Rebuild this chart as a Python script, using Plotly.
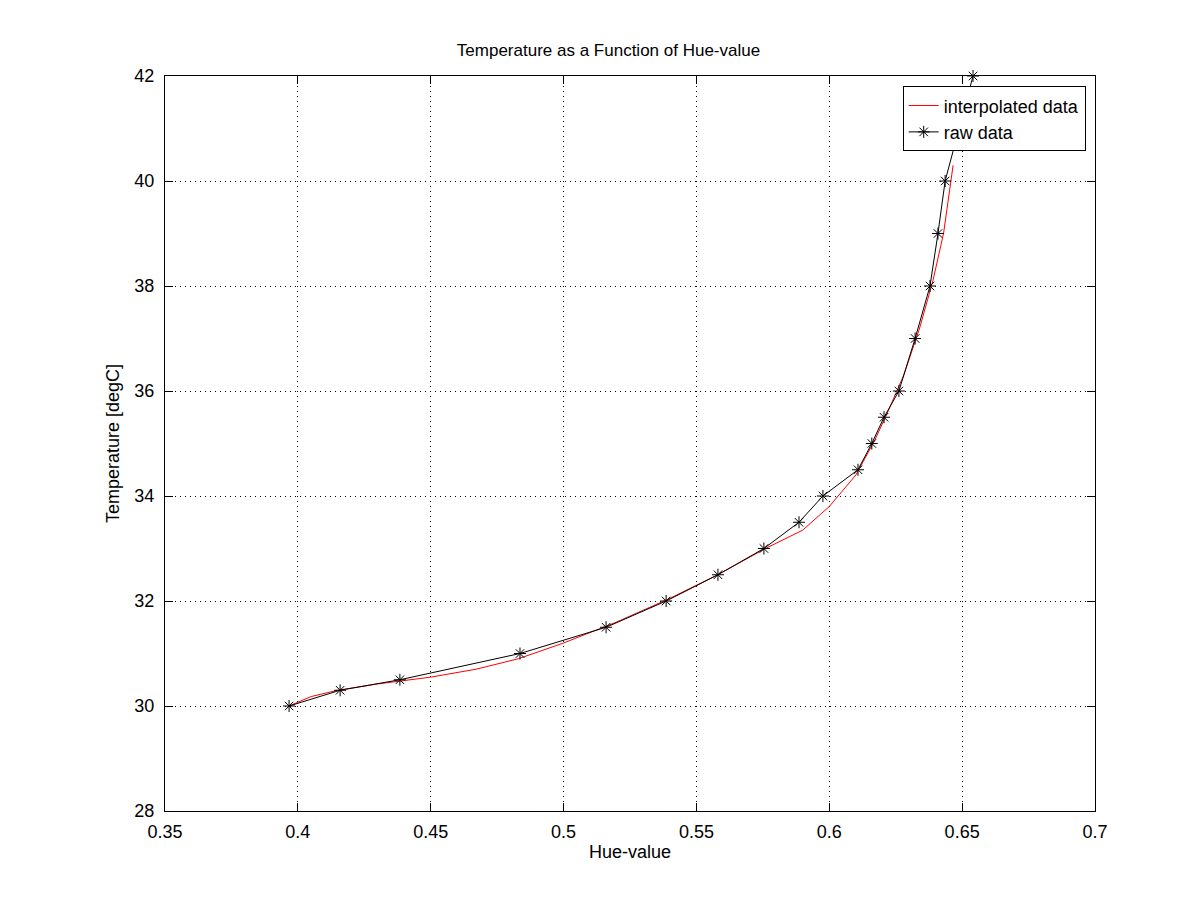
import plotly.graph_objects as go

# raw data (hue-value, temperature)
raw_hue = [0.3967, 0.4159, 0.4384, 0.4836, 0.5160, 0.5386, 0.5581, 0.5754,
           0.5886, 0.5976, 0.6108, 0.6160, 0.6206, 0.6262, 0.6323, 0.6379,
           0.6409, 0.6436, 0.6541]
raw_temp = [30, 30.3, 30.5, 31, 31.5, 32, 32.5, 33, 33.5, 34, 34.5, 35, 35.5,
            36, 37, 38, 39, 40, 42]

# interpolated curve
interp_hue = [0.3967, 0.405, 0.415, 0.43, 0.45, 0.467, 0.483, 0.50, 0.52, 0.54,
              0.558, 0.576, 0.59, 0.60, 0.61, 0.617, 0.622, 0.628, 0.634,
              0.639, 0.643, 0.6466]
interp_temp = [30.0, 30.18, 30.3, 30.42, 30.55, 30.7, 30.9, 31.2, 31.6, 32.05,
               32.5, 33.0, 33.35, 33.8, 34.4, 35.05, 35.6, 36.3, 37.2, 38.1,
               39.0, 40.3]

fig = go.Figure()
fig.add_trace(go.Scatter(x=interp_hue, y=interp_temp, mode='lines',
                         name='interpolated data',
                         line=dict(color='red', width=1)))
fig.add_trace(go.Scatter(x=raw_hue, y=raw_temp, mode='lines+markers',
                         name='raw data', line=dict(color='black', width=1),
                         marker=dict(symbol='asterisk-open', size=10,
                                     color='black',
                                     line=dict(color='black', width=1)),
                         cliponaxis=False))

axis_style = dict(showgrid=True, gridcolor='black', griddash='1px,4px', gridwidth=1,
                  showline=True, linecolor='black', mirror='ticks',
                  ticks='inside', ticklen=8, tickcolor='black',
                  zeroline=False, tickfont=dict(size=18, color='black'))

fig.update_layout(
    width=1201, height=901,
    paper_bgcolor='white', plot_bgcolor='white',
    font=dict(family='Liberation Sans, Arial', color='black'),
    title=dict(text='Temperature as a Function of Hue-value', x=0.5,
               xanchor='center', y=0.953, yanchor='middle',
               font=dict(size=17)),
    margin=dict(l=157, r=114, t=68, b=98, autoexpand=False),
    showlegend=True,
    legend=dict(x=0.99, y=0.986, xanchor='right', yanchor='top',
                bordercolor='black', borderwidth=1, bgcolor='white',
                font=dict(size=18), tracegroupgap=0),
)
fig.update_xaxes(range=[0.35, 0.7], dtick=0.05, tickformat='.4~g',
                 ticklabelstandoff=4,
                 title=dict(text='Hue-value', font=dict(size=18), standoff=4),
                 **axis_style)
fig.update_yaxes(range=[28, 42], dtick=2, ticklabelstandoff=6,
                 title=dict(text='Temperature [degC]', font=dict(size=18), standoff=10),
                 **axis_style)

fig.write_html("out.html")
